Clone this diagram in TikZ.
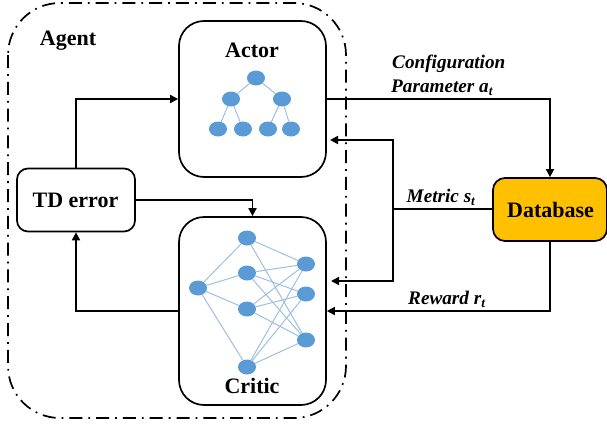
\documentclass[tikz,border=0pt]{standalone}
\usepackage{fontspec}
\setmainfont{Liberation Serif}
\usetikzlibrary{arrows.meta,shapes.geometric}
\tikzset{
  x=1pt,y=-1pt,
  box/.style={draw=black,line width=1.7pt,rounded corners=#1,inner sep=0pt},
  flow/.style={draw=black,line width=1.7pt,-{Triangle[length=8pt,width=8pt]}},
  plain/.style={draw=black,line width=1.7pt},
  nn/.style={ellipse,fill=nnblue,draw=none,minimum width=18pt,minimum height=15pt,inner sep=0pt},
  edge/.style={draw=nnline,line width=1pt},
  title/.style={font=\fontsize{22}{24}\selectfont\bfseries,inner sep=0pt},
  lab/.style={font=\fontsize{19.2}{22}\selectfont\bfseries\itshape,inner sep=0pt,anchor=base west},
}
\definecolor{nnblue}{HTML}{5B9BD5}
\definecolor{nnline}{HTML}{9DBFE0}
\definecolor{dbfill}{HTML}{FFC000}
\begin{document}
\begin{tikzpicture}
\useasboundingbox (0,0) rectangle (607,423);
\draw[line width=1.7pt,rounded corners=52pt,dash pattern=on 13pt off 6pt on 1.8pt off 6pt] (8,3) rectangle (346,418);
% boxes
\node[box=25pt,minimum width=147pt,minimum height=156pt] (actor) at (252.5,99) {};
\node[box=25pt,minimum width=147pt,minimum height=188pt] (critic) at (252.5,311) {};
\node[box=11pt,minimum width=118pt,minimum height=63pt] (td) at (76,200) {};
\node[box=12pt,minimum width=114pt,minimum height=63pt,fill=dbfill] (db) at (550,209.5) {};
% titles
\node[title] (tagent) at (68,41) {Agent};
\node[title] (tactor) at (252,50) {Actor};
\node[title] (tcritic) at (252,386) {Critic};
\node[title] (ttd) at (75.5,200) {TD error};
\node[title] (tdb) at (550.5,210) {Database};
% actor tree
\node[nn] (r) at (256,78) {};
\node[nn] (a1) at (231,99) {};
\node[nn] (a2) at (282,99) {};
\node[nn] (l1) at (218,129) {};
\node[nn] (l2) at (243,129) {};
\node[nn] (l3) at (268,129) {};
\node[nn] (l4) at (291,129) {};
\draw[edge] (r)--(a1) (r)--(a2) (a1)--(l1) (a1)--(l2) (a2)--(l3) (a2)--(l4);
% critic network
\node[nn] (in) at (198,288) {};
\node[nn] (h1) at (247,238) {};
\node[nn] (h2) at (247,273) {};
\node[nn] (h3) at (247,309) {};
\node[nn] (h4) at (247,367) {};
\node[nn] (o1) at (306,264) {};
\node[nn] (o2) at (306,294) {};
\node[nn] (o3) at (306,340) {};
\foreach \h in {h1,h2,h3,h4} {\draw[edge] (in)--(\h);}
\foreach \h/\o in {h1/o1,h1/o3,h2/o1,h2/o2,h2/o3,h3/o1,h3/o2,h3/o3,h4/o1,h4/o2,h4/o3} {\draw[edge] (\h)--(\o);}
% connectors
\coordinate (j) at (393,209);
\coordinate (mu) at (330,140);
\coordinate (md) at (331,281);
\coordinate (rw) at (550,311);
\coordinate (cl) at (76,311);
\draw[flow] (td.north) |- (actor.west);
\draw[flow] (td.east) -| (critic.north);
\draw[flow] (critic.west |- cl) -- (cl) -- (td.south);
\draw[flow] (actor.east) -| (db.north);
\draw[plain] (db.west |- j) -- (j);
\draw[flow] (j) |- (mu);
\draw[flow] (j) |- (md);
\draw[flow] (db.south) -- (rw) -- (critic.east |- rw);
% labels
\node[lab] (lc) at (392,68) {Configuration};
\node[lab] (lp) at (391,92.5) {Parameter \textit{a}\textsubscript{\textit{t}}};
\node[lab] (lm) at (406.5,202.5) {Metric \textit{s}\textsubscript{\textit{t}}};
\node[lab] (lr) at (408,304.5) {Reward \textit{r}\textsubscript{\textit{t}}};
\end{tikzpicture}
\end{document}
